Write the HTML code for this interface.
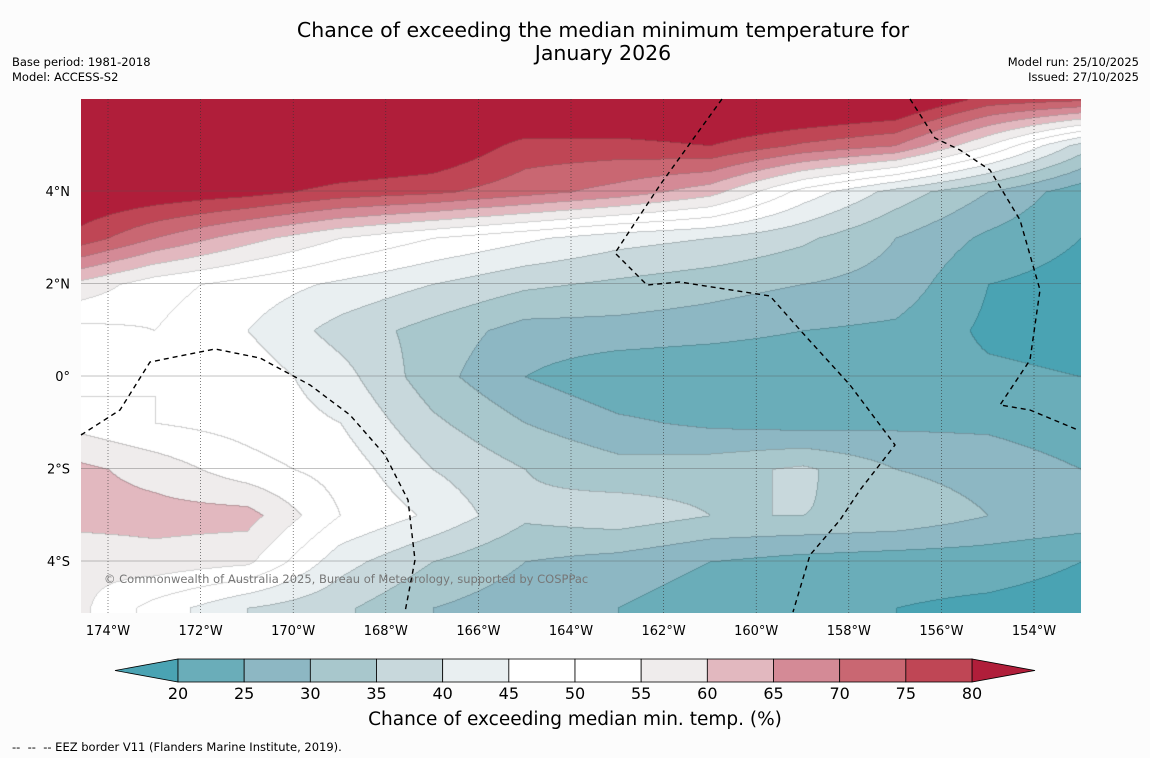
<!DOCTYPE html>
<html><head><meta charset="utf-8"><style>
body{margin:0;background:#fcfcfc;width:1150px;height:758px;overflow:hidden;font-family:"DejaVu Sans","Liberation Sans",sans-serif;}
.t{position:absolute;color:#000;}
</style></head><body>
<div class="t" style="left:0;width:1206px;top:19px;text-align:center;font-size:20.5px;line-height:23px;">Chance of exceeding the median minimum temperature for<br>January 2026</div>
<div class="t" style="left:12px;top:55px;font-size:11.5px;line-height:15px;">Base period: 1981-2018<br>Model: ACCESS-S2</div>
<div class="t" style="right:11px;top:55px;font-size:11.5px;line-height:15px;text-align:right;">Model run: 25/10/2025<br>Issued: 27/10/2025</div>
<canvas id="map" width="1000" height="514" style="position:absolute;left:81px;top:99px;"></canvas>
<svg id="ov" width="1150" height="758" style="position:absolute;left:0;top:0;"></svg>
<div class="t" style="left:104px;top:572px;font-size:11.5px;color:#777;">© Commonwealth of Australia 2025, Bureau of Meteorology, supported by COSPPac</div>
<div class="t" style="left:0;width:1150px;top:709px;text-align:center;font-size:18.5px;">Chance of exceeding median min. temp. (%)</div>
<div class="t" style="left:12px;top:740px;font-size:11.5px;">--&nbsp; --&nbsp; -- EEZ border V11 (Flanders Marine Institute, 2019).</div>
<script>
const lons=[175,173,171,169,167,165,163,161,159,157,155,153];
const lats=[6,5,4,3,2,1,0,-1,-2,-3,-4,-5];
const v6=[90,90,90,90,90,90,90,90,90,88,78,76];
const v5=[90,90,90,88,86,78,78,80,74,70,55,38];
const v4=[86,84,82,78,76,72,68,62,48,38,30,22];
const v3=[80,70,62,55,50,46,42,40,36,30,24,20];
const v2=[60,52,48,44,40,36,34,32,30,28,20,18];
const v1=[48,50,45,38,33,28,28,27,25,24,19,18];
const v0=[47,50,48,42,32,25,21,20,20,22,21,20];
const vm1=[54,50,48,45,36,30,26,24,23,24,24,22];
const vm2=[62,58,52,48,40,35,32,33,36,30,28,25];
const vm3=[62,62,62,50,44,36,38,35,35,34,30,28];
const vm4=[56,58,56,42,35,30,28,25,23,22,22,20];
const vm5=[58,48,40,36,30,27,25,22,20,20,19,18];
const grid=[v6,v5,v4,v3,v2,v1,v0,vm1,vm2,vm3,vm4,vm5];
const levels=[20,25,30,35,40,45,50,55,60,65,70,75,80];
const colors=["#4aa3b3","#6aadb9","#8db7c3","#a8c7cc","#c8d8dc","#e9eff1","#ffffff","#ffffff","#efecec","#e2b8bf","#d48a96","#c96772","#bf4655","#b01e3a"];
const tickLons=[174,172,170,168,166,164,162,160,158,156,154];
const tickLats=[4,2,0,-2,-4];
const xOf=lon=>108+(174-lon)*46.3;
const yOf=lat=>376-lat*46.25;
function val(px,py){
 const lon=174-(px-108)/46.3, lat=(376-py)/46.25;
 let fi=(175-lon)/2, fj=(6-lat);
 fi=Math.max(0,Math.min(lons.length-1.0001,fi)); fj=Math.max(0,Math.min(lats.length-1.0001,fj));
 const i=Math.floor(fi),j=Math.floor(fj),a=fi-i,b=fj-j;
 return grid[j][i]*(1-a)*(1-b)+grid[j][i+1]*a*(1-b)+grid[j+1][i]*(1-a)*b+grid[j+1][i+1]*a*b;
}
function bin(v){let k=0;while(k<levels.length&&v>=levels[k])k++;return k;}
const cv=document.getElementById('map'),ctx=cv.getContext('2d');
const img=ctx.createImageData(1000,514);
const bins=new Int8Array(1000*514);
for(let y=0;y<514;y++)for(let x=0;x<1000;x++)bins[y*1000+x]=bin(val(x+81,y+99));
for(let y=0;y<514;y++)for(let x=0;x<1000;x++){
 const k=bins[y*1000+x];let c=colors[k];
 const edge=(x>0&&bins[y*1000+x-1]!==k)||(y>0&&bins[(y-1)*1000+x]!==k);
 const p=(y*1000+x)*4;
 let r=parseInt(c.substr(1,2),16),g=parseInt(c.substr(3,2),16),bb=parseInt(c.substr(5,2),16);
 if(edge){r*=0.82;g*=0.82;bb*=0.82;}
 img.data[p]=r;img.data[p+1]=g;img.data[p+2]=bb;img.data[p+3]=255;
}
ctx.putImageData(img,0,0);
const NS="http://www.w3.org/2000/svg",ov=document.getElementById('ov');
function mk(t,at,parent){const e=document.createElementNS(NS,t);for(const k in at)e.setAttribute(k,at[k]);(parent||ov).appendChild(e);return e;}
const FF='DejaVu Sans, Liberation Sans, sans-serif';
tickLons.forEach(l=>{
 const x=xOf(l);
 const ln=mk('line',{x1:x,x2:x,y1:99,y2:613,stroke:'#333','stroke-width':0.6,'stroke-dasharray':'1,2'});
 
 
 const t=mk('text',{x:x,y:635,'text-anchor':'middle','font-size':13,'font-family':FF});
 t.textContent=l+'°W';
 
 
});
tickLats.forEach(l=>{
 const y=yOf(l);
 const ln=mk('line',{x1:81,x2:1081,y1:y,y2:y,stroke:'#555','stroke-width':0.5,opacity:0.7});
 
 
 const t=mk('text',{x:70,y:y+5,'text-anchor':'end','font-size':13,'font-family':FF});
 t.textContent=l===0?'0°':Math.abs(l)+(l>0?'°N':'°S');
 
 
});
const eez=[
 [[722,99],[660,185],[615,253],[647,285],[680,282],[770,296],[800,330],[850,385],[895,445],[860,490],[840,520],[810,555],[793,612]],
 [[910,99],[935,138],[960,150],[990,170],[1020,220],[1040,290],[1030,360],[1000,405],[1030,410],[1078,430]],
 [[81,435],[120,410],[150,362],[215,349],[260,358],[310,385],[350,415],[385,455],[408,500],[415,560],[405,612]]];
eez.forEach(p=>{
 const e=mk('polyline',{points:p.map(q=>q.join(',')).join(' '),fill:'none',stroke:'#000','stroke-width':1.4,'stroke-dasharray':'5,4'});
 
 
});
const cbx0=178,cbw=(972-178)/12;
const tri1=mk('polygon',{points:'115,670.5 178,659 178,682',fill:colors[0],stroke:'#000','stroke-width':0.8});


const tri2=mk('polygon',{points:'1035,670.5 972,659 972,682',fill:colors[13],stroke:'#000','stroke-width':0.8});


for(let i=0;i<12;i++){
 const r=mk('rect',{x:cbx0+i*cbw,y:659,width:cbw,height:23,fill:colors[i+1],stroke:'#000','stroke-width':0.8});
 
 
}
levels.forEach((l,i)=>{
 const t=mk('text',{x:cbx0+i*cbw,y:699,'text-anchor':'middle','font-size':16,'font-family':FF});
 t.textContent=l;
 
 
});
</script>
</body></html>
